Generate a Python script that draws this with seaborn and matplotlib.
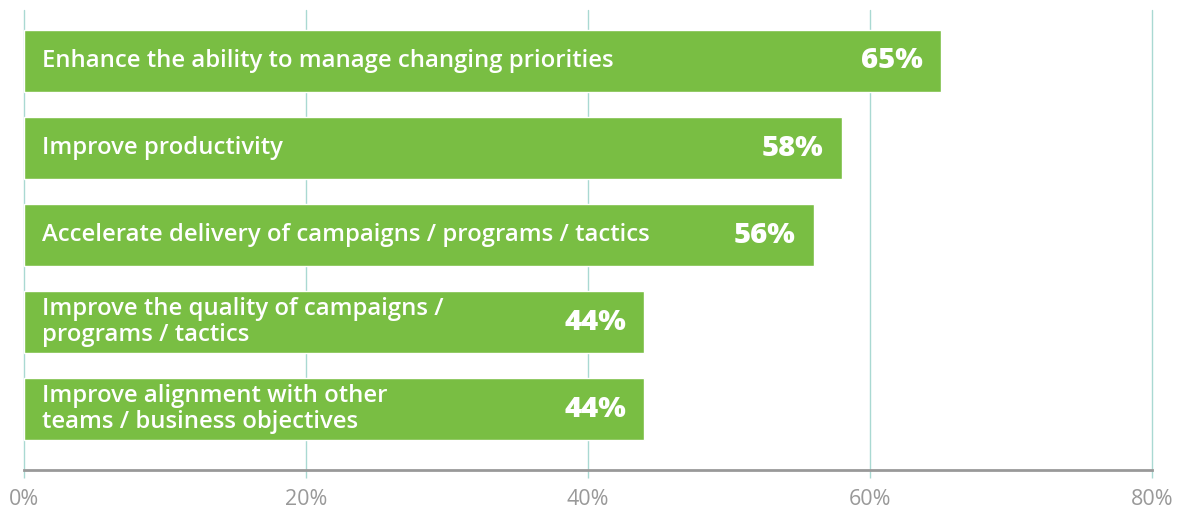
import matplotlib
matplotlib.use("Agg")
import matplotlib.pyplot as plt
import seaborn as sns

# datos de la grafica
categorias = [
    "Enhance the ability to manage changing priorities",
    "Improve productivity",
    "Accelerate delivery of campaigns / programs / tactics",
    "Improve the quality of campaigns /\nprograms / tactics",
    "Improve alignment with other\nteams / business objectives",
]
valores = [65, 58, 56, 44, 44]
ticks_x = [0, 20, 40, 60, 80]
etiquetas_x = ["0%", "20%", "40%", "60%", "80%"]

verde = "#79BE43"
grid = "#A9D9D2"
gris = "#999999"

sns.set_style("white")
plt.rcParams["font.family"] = ["Open Sans", "DejaVu Sans"]

fig = plt.figure(figsize=(11.85, 5.12), dpi=100)
ax = fig.add_axes([24 / 1185, 1 - 470 / 512, 1128 / 1185, 460 / 512])

sns.barplot(x=valores, y=categorias, color=verde, saturation=1, width=0.71,
            orient="h", ax=ax, zorder=3)

ax.set_xlim(0, 80)
ax.set_ylim(4.70, -0.586)
ax.set_xticks(ticks_x)
ax.set_xticklabels(etiquetas_x, color=gris, fontsize=15.5)
ax.set_yticks([])
ax.set_xlabel("")
ax.set_ylabel("")

# lineas verticales
ax.grid(axis="x", color=grid, linewidth=1, zorder=0)
for gl in ax.get_xgridlines():
    gl.set_clip_on(False)
ax.tick_params(axis="x", bottom=True, length=6, color=grid, width=1, pad=8)
for lado in ["top", "right", "left"]:
    ax.spines[lado].set_visible(False)
ax.spines["bottom"].set_color(gris)
ax.spines["bottom"].set_linewidth(2)
ax.spines["bottom"].set_zorder(4)

# textos dentro de las barras
for i, (cat, v) in enumerate(zip(categorias, valores)):
    ax.annotate(cat, xy=(0, i), xytext=(13, 0), textcoords="offset points",
                ha="left", va="center", color="white", fontsize=17.2,
                fontweight="semibold", linespacing=1.15, zorder=5)
    ax.annotate(f"{v}%", xy=(v, i), xytext=(-13, 0), textcoords="offset points",
                ha="right", va="center", color="white", fontsize=21,
                fontweight="heavy", zorder=5)

fig.savefig("out.png", dpi=100)
